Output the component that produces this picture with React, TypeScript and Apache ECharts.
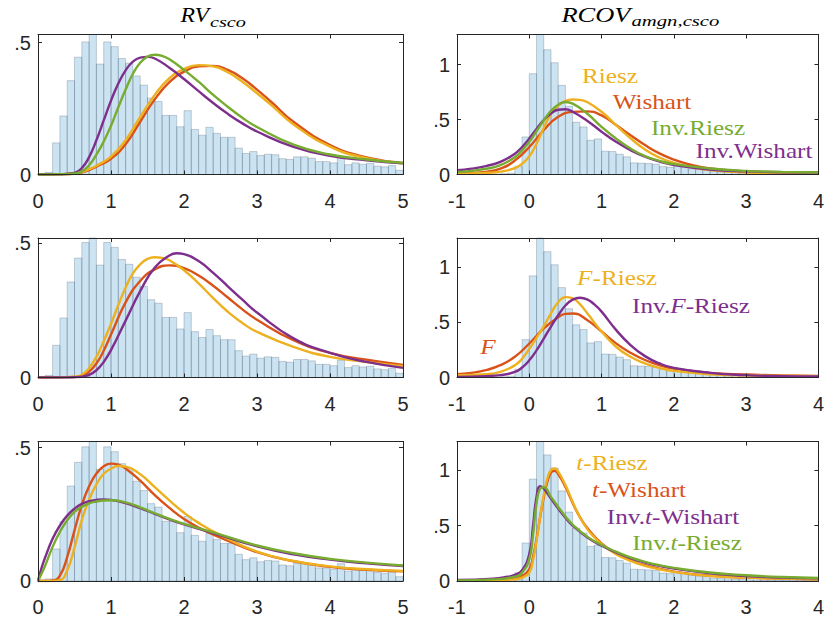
import React, { useEffect, useRef } from 'react';
import * as echarts from 'echarts';

// ---------- colours ----------
const RED = '#D95319';
const YEL = '#EDB120';
const PUR = '#7E2F8E';
const GRN = '#77AC30';
const AX = '#262626';

// ---------- axis ticks ----------
const rvXTicks = [0, 1, 2, 3, 4, 5];
const rcXTicks = [-1, 0, 1, 2, 3, 4];
const rvYMax = [0.531, 0.52, 0.523];
const rcYMax = [1.275, 1.26, 1.257];

// ---------- histograms ----------
const binWidth = 0.1;
const rvBinStarts = [0, 0.1, 0.2, 0.3, 0.4, 0.5, 0.6, 0.7, 0.8, 0.9, 1.0, 1.1, 1.2, 1.3, 1.4, 1.5, 1.6, 1.7, 1.8, 1.9,
  2.0, 2.1, 2.2, 2.3, 2.4, 2.5, 2.6, 2.7, 2.8, 2.9, 3.0, 3.1, 3.2, 3.3, 3.4, 3.5, 3.6, 3.7, 3.8, 3.9,
  4.0, 4.1, 4.2, 4.3, 4.4, 4.5, 4.6, 4.7, 4.8, 4.9];
const rvHist = [0.004, 0.008, 0.12, 0.222, 0.356, 0.445, 0.503, 0.55, 0.419, 0.503, 0.485, 0.44, 0.422, 0.374, 0.339,
  0.29, 0.277, 0.224, 0.224, 0.181, 0.242, 0.171, 0.149, 0.179, 0.156, 0.141, 0.141, 0.1, 0.08, 0.087,
  0.072, 0.077, 0.075, 0.06, 0.057, 0.067, 0.067, 0.062, 0.049, 0.049, 0.044, 0.065, 0.037, 0.044, 0.039,
  0.042, 0.032, 0.029, 0.034, 0.016];
const rcBinStarts = [-1.0, -0.9, -0.8, -0.7, -0.6, -0.5, -0.4, -0.3, -0.2, -0.1, 0, 0.1, 0.2, 0.3, 0.4, 0.5, 0.6, 0.7, 0.8, 0.9,
  1.0, 1.1, 1.2, 1.3, 1.4, 1.5, 1.6, 1.7, 1.8, 1.9, 2.0, 2.1, 2.2, 2.3, 2.4, 2.5, 2.6, 2.7, 2.8, 2.9,
  3.0, 3.1, 3.2, 3.3, 3.4, 3.5, 3.6, 3.7, 3.8, 3.9];
const rcHist = [0.002, 0.002, 0.003, 0.003, 0.004, 0.005, 0.007, 0.012, 0.074, 0.342, 0.918, 1.3, 1.136, 1.018, 0.812,
  0.621, 0.476, 0.433, 0.312, 0.324, 0.212, 0.209, 0.185, 0.161, 0.106, 0.103, 0.1, 0.094, 0.072, 0.066,
  0.082, 0.07, 0.052, 0.045, 0.039, 0.027, 0.024, 0.02, 0.018, 0.015, 0.012, 0.01, 0.009, 0.008, 0.008,
  0.007, 0.01, 0.01, 0.006, 0.005];

// ---------- density curves: RV, row 1 ----------
const rv1WishartX = [0, 0.3, 0.5, 0.6, 0.7, 0.8, 1.0, 1.2, 1.4, 1.6, 1.8, 2.0, 2.2, 2.4, 2.6, 2.8, 3.0, 3.2, 3.5, 4.0, 4.5, 5.0];
const rv1WishartY = [0, 0.001, 0.003, 0.008, 0.017, 0.03, 0.06, 0.115, 0.2, 0.285, 0.35, 0.39, 0.41, 0.412, 0.397, 0.365, 0.322, 0.274, 0.2, 0.112, 0.065, 0.044];
const rv1RieszX = [0, 0.3, 0.5, 0.6, 0.7, 0.8, 1.0, 1.2, 1.4, 1.6, 1.8, 2.0, 2.2, 2.4, 2.6, 2.8, 3.0, 3.2, 3.5, 4.0, 4.5, 5.0];
const rv1RieszY = [0, 0.001, 0.004, 0.01, 0.02, 0.033, 0.068, 0.13, 0.218, 0.302, 0.365, 0.4, 0.415, 0.41, 0.388, 0.352, 0.308, 0.262, 0.19, 0.106, 0.062, 0.042];
const rv1InvWishartX = [0, 0.3, 0.5, 0.6, 0.7, 0.8, 0.9, 1.0, 1.1, 1.2, 1.3, 1.4, 1.5, 1.6, 1.8, 2.0, 2.2, 2.4, 2.6, 2.8, 3.0, 3.5, 4.0, 4.5, 5.0];
const rv1InvWishartY = [0, 0.001, 0.006, 0.024, 0.066, 0.13, 0.205, 0.28, 0.345, 0.395, 0.428, 0.443, 0.446, 0.44, 0.405, 0.362, 0.316, 0.271, 0.23, 0.194, 0.163, 0.105, 0.071, 0.054, 0.042];
const rv1InvRieszX = [0, 0.3, 0.5, 0.6, 0.7, 0.8, 0.9, 1.0, 1.1, 1.2, 1.3, 1.4, 1.5, 1.6, 1.7, 1.8, 2.0, 2.2, 2.4, 2.6, 2.8, 3.0, 3.5, 4.0, 4.5, 5.0];
const rv1InvRieszY = [0, 0.001, 0.004, 0.012, 0.035, 0.075, 0.125, 0.185, 0.255, 0.322, 0.382, 0.424, 0.447, 0.454, 0.45, 0.437, 0.397, 0.352, 0.302, 0.257, 0.215, 0.18, 0.113, 0.076, 0.057, 0.044];

// ---------- RV, row 2 ----------
const rv2FRieszX = [0, 0.3, 0.5, 0.6, 0.7, 0.8, 0.9, 1.0, 1.1, 1.2, 1.3, 1.4, 1.5, 1.6, 1.7, 1.8, 2.0, 2.2, 2.4, 2.6, 2.8, 3.0, 3.5, 4.0, 4.5, 5.0];
const rv2FRieszY = [0, 0.001, 0.003, 0.01, 0.035, 0.077, 0.135, 0.2, 0.27, 0.335, 0.388, 0.422, 0.442, 0.448, 0.446, 0.437, 0.4, 0.351, 0.296, 0.245, 0.203, 0.17, 0.114, 0.077, 0.058, 0.042];
const rv2FX = [0, 0.3, 0.5, 0.6, 0.7, 0.8, 0.9, 1.0, 1.2, 1.4, 1.6, 1.8, 2.0, 2.2, 2.4, 2.6, 2.8, 3.0, 3.5, 4.0, 4.5, 5.0];
const rv2FY = [0, 0.001, 0.002, 0.006, 0.022, 0.052, 0.1, 0.16, 0.28, 0.36, 0.403, 0.418, 0.408, 0.38, 0.342, 0.298, 0.254, 0.215, 0.139, 0.092, 0.066, 0.047];
const rv2InvFRieszX = [0, 0.3, 0.5, 0.6, 0.7, 0.8, 0.9, 1.0, 1.2, 1.4, 1.6, 1.8, 1.9, 2.0, 2.2, 2.4, 2.6, 2.8, 3.0, 3.5, 4.0, 4.5, 5.0];
const rv2InvFRieszY = [0, 0, 0.001, 0.003, 0.01, 0.027, 0.058, 0.102, 0.212, 0.322, 0.41, 0.455, 0.463, 0.46, 0.434, 0.39, 0.34, 0.29, 0.242, 0.146, 0.092, 0.058, 0.036];

// ---------- RV, row 3 ----------
const rv3tWishartX = [0, 0.1, 0.2, 0.3, 0.4, 0.5, 0.6, 0.7, 0.8, 0.9, 1.0, 1.1, 1.2, 1.4, 1.6, 1.8, 2.0, 2.2, 2.5, 3.0, 3.5, 4.0, 4.5, 5.0];
const rv3tWishartY = [0, 0, 0.002, 0.02, 0.09, 0.19, 0.285, 0.355, 0.403, 0.43, 0.44, 0.436, 0.422, 0.376, 0.322, 0.274, 0.232, 0.2, 0.163, 0.108, 0.074, 0.053, 0.042, 0.036];
const rv3tRieszX = [0, 0.1, 0.2, 0.3, 0.4, 0.5, 0.6, 0.7, 0.8, 0.9, 1.0, 1.1, 1.2, 1.4, 1.6, 1.8, 2.0, 2.2, 2.5, 3.0, 3.5, 4.0, 4.5, 5.0];
const rv3tRieszY = [0, 0, 0, 0.003, 0.04, 0.125, 0.228, 0.305, 0.362, 0.402, 0.421, 0.431, 0.429, 0.4, 0.352, 0.302, 0.256, 0.218, 0.172, 0.11, 0.075, 0.055, 0.044, 0.038];
const rv3InvtWishartX = [0, 0.05, 0.1, 0.2, 0.3, 0.4, 0.5, 0.6, 0.7, 0.8, 0.9, 1.0, 1.2, 1.4, 1.6, 1.8, 2.0, 2.5, 3.0, 3.5, 4.0, 4.5, 5.0];
const rv3InvtWishartY = [0, 0.05, 0.09, 0.158, 0.208, 0.245, 0.271, 0.289, 0.299, 0.304, 0.306, 0.304, 0.292, 0.273, 0.252, 0.231, 0.212, 0.171, 0.13, 0.1, 0.08, 0.066, 0.056];
const rv3InvtRieszX = [0, 0.05, 0.1, 0.2, 0.3, 0.4, 0.5, 0.6, 0.7, 0.8, 0.9, 1.0, 1.2, 1.4, 1.6, 1.8, 2.0, 2.5, 3.0, 3.5, 4.0, 4.5, 5.0];
const rv3InvtRieszY = [0, 0.028, 0.059, 0.128, 0.184, 0.228, 0.259, 0.278, 0.291, 0.298, 0.302, 0.303, 0.295, 0.276, 0.254, 0.233, 0.214, 0.174, 0.133, 0.104, 0.083, 0.069, 0.058];

// ---------- RCOV, row 1 ----------
const rc1RieszX = [-1, -0.6, -0.4, -0.2, -0.1, 0, 0.1, 0.2, 0.3, 0.4, 0.5, 0.6, 0.7, 0.8, 1.0, 1.2, 1.4, 1.6, 1.8, 2.0, 2.2, 2.5, 3.0, 3.5, 4.0];
const rc1RieszY = [0.009, 0.015, 0.026, 0.058, 0.098, 0.165, 0.28, 0.425, 0.55, 0.628, 0.67, 0.683, 0.68, 0.66, 0.572, 0.45, 0.33, 0.228, 0.155, 0.106, 0.072, 0.04, 0.018, 0.012, 0.009];
const rc1WishartX = [-1, -0.6, -0.4, -0.2, 0, 0.2, 0.4, 0.6, 0.8, 1.0, 1.2, 1.4, 1.6, 1.8, 2.0, 2.2, 2.5, 3.0, 3.5, 4.0];
const rc1WishartY = [0.009, 0.024, 0.053, 0.127, 0.25, 0.405, 0.525, 0.57, 0.575, 0.538, 0.45, 0.358, 0.268, 0.192, 0.136, 0.095, 0.055, 0.027, 0.016, 0.012];
const rc1InvRieszX = [-1, -0.8, -0.6, -0.4, -0.2, -0.1, 0, 0.1, 0.2, 0.3, 0.4, 0.5, 0.6, 0.8, 1.0, 1.2, 1.4, 1.6, 1.8, 2.0, 2.5, 3.0, 3.5, 4.0];
const rc1InvRieszY = [0.024, 0.033, 0.052, 0.085, 0.158, 0.22, 0.297, 0.394, 0.492, 0.58, 0.636, 0.66, 0.645, 0.555, 0.433, 0.327, 0.236, 0.168, 0.124, 0.094, 0.055, 0.033, 0.024, 0.018];
const rc1InvWishartX = [-1, -0.8, -0.6, -0.4, -0.2, -0.1, 0, 0.1, 0.2, 0.3, 0.4, 0.5, 0.6, 0.8, 1.0, 1.2, 1.4, 1.6, 1.8, 2.0, 2.5, 3.0, 3.5, 4.0];
const rc1InvWishartY = [0.039, 0.053, 0.077, 0.115, 0.19, 0.25, 0.327, 0.415, 0.496, 0.556, 0.59, 0.594, 0.572, 0.49, 0.39, 0.298, 0.222, 0.162, 0.118, 0.086, 0.045, 0.028, 0.021, 0.018];

// ---------- RCOV, row 2 ----------
const rc2FX = [-1, -0.8, -0.6, -0.4, -0.2, 0, 0.2, 0.4, 0.5, 0.6, 0.8, 1.0, 1.2, 1.4, 1.6, 1.8, 2.0, 2.5, 3.0, 3.5, 4.0];
const rc2FY = [0.03, 0.042, 0.066, 0.111, 0.187, 0.307, 0.443, 0.545, 0.575, 0.578, 0.52, 0.415, 0.308, 0.223, 0.158, 0.112, 0.081, 0.042, 0.027, 0.018, 0.015];
const rc2FRieszX = [-1, -0.6, -0.4, -0.2, -0.1, 0, 0.1, 0.2, 0.3, 0.4, 0.5, 0.6, 0.7, 0.8, 1.0, 1.2, 1.4, 1.6, 1.8, 2.0, 2.5, 3.0, 4.0];
const rc2FRieszY = [0.021, 0.03, 0.051, 0.11, 0.17, 0.258, 0.358, 0.462, 0.58, 0.68, 0.726, 0.715, 0.662, 0.582, 0.415, 0.278, 0.187, 0.127, 0.087, 0.06, 0.03, 0.018, 0.012];
const rc2InvFRieszX = [-1, -0.6, -0.4, -0.2, -0.1, 0, 0.1, 0.2, 0.3, 0.4, 0.5, 0.6, 0.7, 0.8, 0.9, 1.0, 1.2, 1.4, 1.6, 1.8, 2.0, 2.5, 3.0, 3.5, 4.0];
const rc2InvFRieszY = [0.006, 0.012, 0.021, 0.05, 0.09, 0.155, 0.245, 0.352, 0.46, 0.562, 0.65, 0.703, 0.72, 0.705, 0.66, 0.595, 0.43, 0.293, 0.193, 0.127, 0.087, 0.042, 0.021, 0.012, 0.009];

// ---------- RCOV, row 3 ----------
const rc3tRieszX = [-1, -0.5, -0.2, -0.1, 0, 0.05, 0.1, 0.15, 0.2, 0.25, 0.3, 0.35, 0.4, 0.5, 0.6, 0.7, 0.8, 0.9, 1.0, 1.2, 1.4, 1.6, 1.8, 2.0, 2.5, 3.0, 3.5, 4.0];
const rc3tRieszY = [0.006, 0.009, 0.015, 0.03, 0.076, 0.182, 0.364, 0.576, 0.773, 0.924, 1.0, 1.015, 0.985, 0.864, 0.712, 0.576, 0.47, 0.394, 0.333, 0.242, 0.182, 0.136, 0.106, 0.082, 0.045, 0.03, 0.021, 0.015];
const rc3tWishartX = [-1, -0.5, -0.2, -0.1, 0, 0.05, 0.1, 0.15, 0.2, 0.25, 0.3, 0.35, 0.4, 0.5, 0.6, 0.7, 0.8, 1.0, 1.2, 1.4, 1.6, 2.0, 2.5, 3.0, 4.0];
const rc3tWishartY = [0.006, 0.01, 0.021, 0.045, 0.106, 0.212, 0.379, 0.576, 0.752, 0.894, 0.976, 0.994, 0.964, 0.848, 0.703, 0.576, 0.479, 0.339, 0.248, 0.188, 0.142, 0.085, 0.048, 0.03, 0.015];
const rc3InvtWishartX = [-1, -0.5, -0.3, -0.2, -0.1, 0, 0.05, 0.1, 0.15, 0.2, 0.3, 0.4, 0.5, 0.6, 0.8, 1.0, 1.2, 1.4, 1.6, 1.8, 2.0, 2.5, 3.0, 3.5, 4.0];
const rc3InvtWishartY = [0.009, 0.021, 0.039, 0.055, 0.097, 0.242, 0.485, 0.758, 0.855, 0.833, 0.742, 0.652, 0.57, 0.5, 0.394, 0.318, 0.258, 0.206, 0.167, 0.136, 0.112, 0.07, 0.045, 0.03, 0.024];
const rc3InvtRieszX = [-1, -0.5, -0.2, -0.1, 0, 0.05, 0.1, 0.15, 0.2, 0.3, 0.4, 0.5, 0.6, 0.8, 1.0, 1.2, 1.4, 1.6, 1.8, 2.0, 2.5, 3.0, 3.5, 4.0];
const rc3InvtRieszY = [0.006, 0.015, 0.039, 0.076, 0.197, 0.409, 0.697, 0.833, 0.845, 0.758, 0.667, 0.582, 0.509, 0.4, 0.324, 0.264, 0.212, 0.173, 0.142, 0.118, 0.076, 0.052, 0.036, 0.027];

// ---------- layout ----------
const colLeft = [38, 457];
const colWidth = [365, 364];
const rowTop = [34.5, 238, 441.5];
const rowHeight = [140, 139.5, 139.5];

type Curve = { name: string; x: number[]; y: number[]; color: string };

const panels: { col: number; row: number; curves: Curve[] }[] = [
  { col: 0, row: 0, curves: [
    { name: 'Wishart', x: rv1WishartX, y: rv1WishartY, color: RED },
    { name: 'Riesz', x: rv1RieszX, y: rv1RieszY, color: YEL },
    { name: 'Inv.Wishart', x: rv1InvWishartX, y: rv1InvWishartY, color: PUR },
    { name: 'Inv.Riesz', x: rv1InvRieszX, y: rv1InvRieszY, color: GRN },
  ] },
  { col: 1, row: 0, curves: [
    { name: 'Wishart', x: rc1WishartX, y: rc1WishartY, color: RED },
    { name: 'Riesz', x: rc1RieszX, y: rc1RieszY, color: YEL },
    { name: 'Inv.Wishart', x: rc1InvWishartX, y: rc1InvWishartY, color: PUR },
    { name: 'Inv.Riesz', x: rc1InvRieszX, y: rc1InvRieszY, color: GRN },
  ] },
  { col: 0, row: 1, curves: [
    { name: 'F', x: rv2FX, y: rv2FY, color: RED },
    { name: 'F-Riesz', x: rv2FRieszX, y: rv2FRieszY, color: YEL },
    { name: 'Inv.F-Riesz', x: rv2InvFRieszX, y: rv2InvFRieszY, color: PUR },
  ] },
  { col: 1, row: 1, curves: [
    { name: 'F', x: rc2FX, y: rc2FY, color: RED },
    { name: 'F-Riesz', x: rc2FRieszX, y: rc2FRieszY, color: YEL },
    { name: 'Inv.F-Riesz', x: rc2InvFRieszX, y: rc2InvFRieszY, color: PUR },
  ] },
  { col: 0, row: 2, curves: [
    { name: 't-Wishart', x: rv3tWishartX, y: rv3tWishartY, color: RED },
    { name: 't-Riesz', x: rv3tRieszX, y: rv3tRieszY, color: YEL },
    { name: 'Inv.t-Wishart', x: rv3InvtWishartX, y: rv3InvtWishartY, color: PUR },
    { name: 'Inv.t-Riesz', x: rv3InvtRieszX, y: rv3InvtRieszY, color: GRN },
  ] },
  { col: 1, row: 2, curves: [
    { name: 't-Wishart', x: rc3tWishartX, y: rc3tWishartY, color: RED },
    { name: 't-Riesz', x: rc3tRieszX, y: rc3tRieszY, color: YEL },
    { name: 'Inv.t-Wishart', x: rc3InvtWishartX, y: rc3InvtWishartY, color: PUR },
    { name: 'Inv.t-Riesz', x: rc3InvtRieszX, y: rc3InvtRieszY, color: GRN },
  ] },
];

// ---------- in-panel labels (annotation positions, pixels) ----------
const SERIF = "'Liberation Serif', 'Times New Roman', serif";
const labelItems: { text: string; color: string; x: number; y: number }[] = [
  { text: 'Riesz', color: YEL, x: 610, y: 76 },
  { text: 'Wishart', color: RED, x: 652, y: 102 },
  { text: 'Inv.Riesz', color: GRN, x: 698, y: 128 },
  { text: 'Inv.Wishart', color: PUR, x: 754, y: 151 },
  { text: '{i|F}-Riesz', color: YEL, x: 617, y: 278 },
  { text: 'Inv.{i|F}-Riesz', color: PUR, x: 691, y: 306 },
  { text: '{i|F}', color: RED, x: 488, y: 347 },
  { text: '{i|t}-Riesz', color: YEL, x: 612, y: 463 },
  { text: '{i|t}-Wishart', color: RED, x: 639, y: 490 },
  { text: 'Inv.{i|t}-Wishart', color: PUR, x: 673, y: 517 },
  { text: 'Inv.{i|t}-Riesz', color: GRN, x: 687, y: 543 },
];

const yFmt = (v: number) => {
  const r = Math.round(v * 2) / 2;
  if (Math.abs(v - r) > 1e-6) return '';
  if (r === 0) return '0';
  return String(r).replace(/^0(?=\.)/, '');
};

function buildOption() {
  const grid: any[] = [];
  const xAxis: any[] = [];
  const yAxis: any[] = [];
  const series: any[] = [];

  panels.forEach((p, gi) => {
    grid.push({ left: colLeft[p.col], top: rowTop[p.row], width: colWidth[p.col], height: rowHeight[p.row], containLabel: false });
    const xt = p.col === 0 ? rvXTicks : rcXTicks;
    const xmin = xt[0];
    const xmax = xt[xt.length - 1];
    const ymax = p.col === 0 ? rvYMax[p.row] : rcYMax[p.row];
    const base = {
      gridIndex: gi,
      type: 'value',
      axisLine: { show: true, onZero: false, lineStyle: { color: AX, width: 1 } },
      axisTick: { show: true, inside: true, length: 4, lineStyle: { color: AX, width: 1 } },
      splitLine: { show: false },
      z: 10,
    };
    xAxis.push({
      ...base, position: 'bottom', min: xmin, max: xmax, interval: 1,
      axisLabel: { show: true, fontSize: 20, color: AX, margin: 16, fontFamily: 'Liberation Sans' },
    });
    xAxis.push({ ...base, position: 'top', min: xmin, max: xmax, interval: 1, axisLabel: { show: false } });
    yAxis.push({
      ...base, position: 'left', min: 0, max: ymax, interval: 0.5,
      axisLabel: { show: true, fontSize: 20, color: AX, margin: 7, showMaxLabel: false, formatter: yFmt, fontFamily: 'Liberation Sans' },
    });
    yAxis.push({ ...base, position: 'right', min: 0, max: ymax, interval: 0.5, axisLabel: { show: false } });

    const starts = p.col === 0 ? rvBinStarts : rcBinStarts;
    const vals = p.col === 0 ? rvHist : rcHist;
    series.push({
      type: 'custom',
      xAxisIndex: gi * 2,
      yAxisIndex: gi * 2,
      silent: true,
      z: 1,
      encode: { x: [0, 1], y: 2 },
      data: starts.map((s, i) => [s, s + binWidth, vals[i]]),
      renderItem: (params: any, api: any) => {
        const a = api.coord([api.value(0), 0]);
        const b = api.coord([api.value(1), api.value(2)]);
        const rect = { x: a[0], y: b[1], width: b[0] - a[0], height: a[1] - b[1] };
        const cs = params.coordSys;
        const clipped = echarts.graphic.clipRectByRect(rect, { x: cs.x, y: cs.y, width: cs.width, height: cs.height });
        if (!clipped) return null;
        return {
          type: 'rect',
          shape: clipped,
          style: { fill: 'rgba(0,114,189,0.2)', stroke: 'rgba(70,90,110,0.35)', lineWidth: 0.8 },
        };
      },
    });
    p.curves.forEach((c) => {
      series.push({
        type: 'line',
        name: c.name,
        xAxisIndex: gi * 2,
        yAxisIndex: gi * 2,
        data: c.x.map((x, i) => [x, c.y[i]]),
        showSymbol: false,
        symbol: 'none',
        smooth: 0.5,
        clip: true,
        silent: true,
        z: 3,
        lineStyle: { color: c.color, width: 2.4 },
        itemStyle: { color: c.color },
      });
    });
  });

  const graphic: any[] = [
    // titles
    { type: 'text', x: 180.5, y: 14.5, scaleX: 1.08, style: { text: 'RV', font: `italic 22px ${SERIF}`, fill: '#000', textAlign: 'left', textVerticalAlign: 'middle' } },
    { type: 'text', x: 210, y: 21.5, scaleX: 1.35, style: { text: 'csco', font: `italic 15px ${SERIF}`, fill: '#000', textAlign: 'left', textVerticalAlign: 'middle' } },
    { type: 'text', x: 561.5, y: 14.5, scaleX: 1.2, style: { text: 'RCOV', font: `italic 22px ${SERIF}`, fill: '#000', textAlign: 'left', textVerticalAlign: 'middle' } },
    { type: 'text', x: 631.5, y: 21.5, scaleX: 1.38, style: { text: 'amgn,csco', font: `italic 15px ${SERIF}`, fill: '#000', textAlign: 'left', textVerticalAlign: 'middle' } },
    ...labelItems.map((l) => ({
      type: 'text',
      x: l.x,
      y: l.y,
      scaleX: 1.2,
      z: 20,
      style: {
        text: l.text,
        fill: l.color,
        font: `21px ${SERIF}`,
        textAlign: 'center',
        textVerticalAlign: 'middle',
        rich: { i: { fontStyle: 'italic', fontSize: 21, fontFamily: SERIF, fill: l.color, color: l.color } },
      },
    })),
  ];

  return {
    animation: false,
    backgroundColor: '#ffffff',
    grid,
    xAxis,
    yAxis,
    series,
    graphic,
  };
}

export default function App() {
  const ref = useRef<HTMLDivElement>(null);
  useEffect(() => {
    if (!ref.current) return;
    const chart = echarts.init(ref.current, undefined, { renderer: 'svg' });
    chart.setOption(buildOption() as any);
    return () => chart.dispose();
  }, []);
  return (
    <div
      ref={ref}
      style={{ position: 'fixed', left: 0, top: 0, width: 827, height: 618, background: '#fff' }}
    />
  );
}
